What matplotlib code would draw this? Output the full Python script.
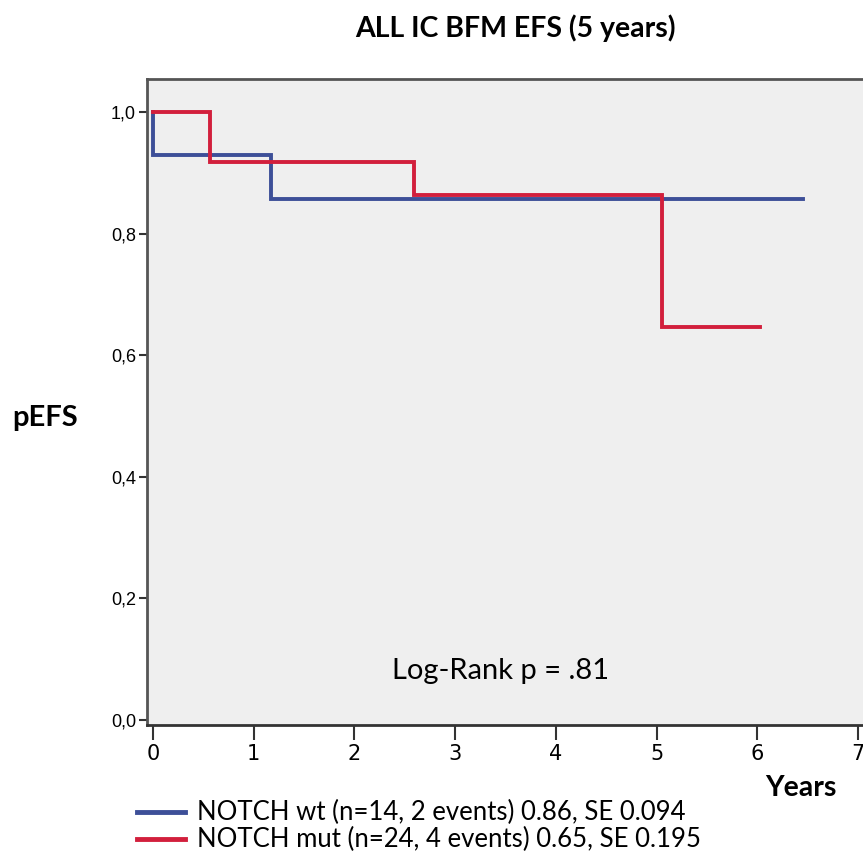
import matplotlib
matplotlib.use("Agg")
from matplotlib import pyplot as plt

# Kaplan-Meier step data
wt_time = [0.0, 0.0, 1.17, 6.45]
wt_surv = [1.0, 0.929, 0.857, 0.857]
mut_time = [0.0, 0.565, 2.59, 5.05, 6.03]
mut_surv = [1.0, 0.917, 0.863, 0.647, 0.647]

x_ticks = [0, 1, 2, 3, 4, 5, 6, 7]
y_ticks = [0.0, 0.2, 0.4, 0.6, 0.8, 1.0]
y_labels = ["0,0", "0,2", "0,4", "0,6", "0,8", "1,0"]

legend_labels = ["NOTCH wt (n=14, 2 events) 0.86, SE 0.094",
                 "NOTCH mut (n=24, 4 events) 0.65, SE 0.195"]
blue = "#3d4f98"
red = "#d21f3c"

fig = plt.figure(figsize=(8.63, 8.63), dpi=100)
ax = fig.add_axes([147/863, 1-725/863, 1-147/863, (725-79)/863])
ax.set_facecolor("#efefef")

ax.plot(wt_time, wt_surv, drawstyle="steps-post", color=blue, lw=2.8, solid_joinstyle="miter")
ax.plot(mut_time, mut_surv, drawstyle="steps-post", color=red, lw=2.8, solid_joinstyle="miter")

ax.set_xlim(-0.06, 7.05)
ax.set_ylim(-0.008, 1.054)
ax.set_xticks(x_ticks)
ax.set_xticklabels([str(t) for t in x_ticks], fontsize=15, family="Liberation Sans Narrow")
ax.set_yticks(y_ticks)
ax.set_yticklabels(y_labels, fontsize=13, family="Liberation Sans")
ax.tick_params(axis="x", direction="out", length=11, width=1.5, pad=3, color="#333333")
ax.tick_params(axis="y", direction="out", length=6, width=1.5, pad=2, color="#333333")
for side in ["top", "bottom", "left"]:
    ax.spines[side].set_linewidth(2)
    ax.spines[side].set_color("#555555")
ax.spines["right"].set_visible(False)
ax.spines["bottom"].set_color("#333333")

ax.text(3.45, 0.08, "Log-Rank p = .81", fontsize=21, family="Lato", ha="center", va="center")

fig.text(515/863, 1-28/863, "ALL IC BFM EFS (5 years)", fontsize=20.5, fontweight="bold",
         family="Lato", ha="center", va="center")
fig.text(45/863, 1-418/863, "pEFS", fontsize=21, fontweight="bold", family="Lato",
         ha="center", va="center")
fig.text(801/863, 1-788/863, "Years", fontsize=20.5, fontweight="bold", family="Lato",
         ha="center", va="center")

for i, (lab, col) in enumerate(zip(legend_labels, [blue, red])):
    yy = 1 - (812 + 27*i)/863
    fig.add_artist(plt.Line2D([137/863, 185/863], [yy, yy], color=col, lw=3.5))
    fig.text(197/863, yy, lab, fontsize=18.5, family="Lato", ha="left", va="center")

fig.savefig("out.png", dpi=100, facecolor="white")
